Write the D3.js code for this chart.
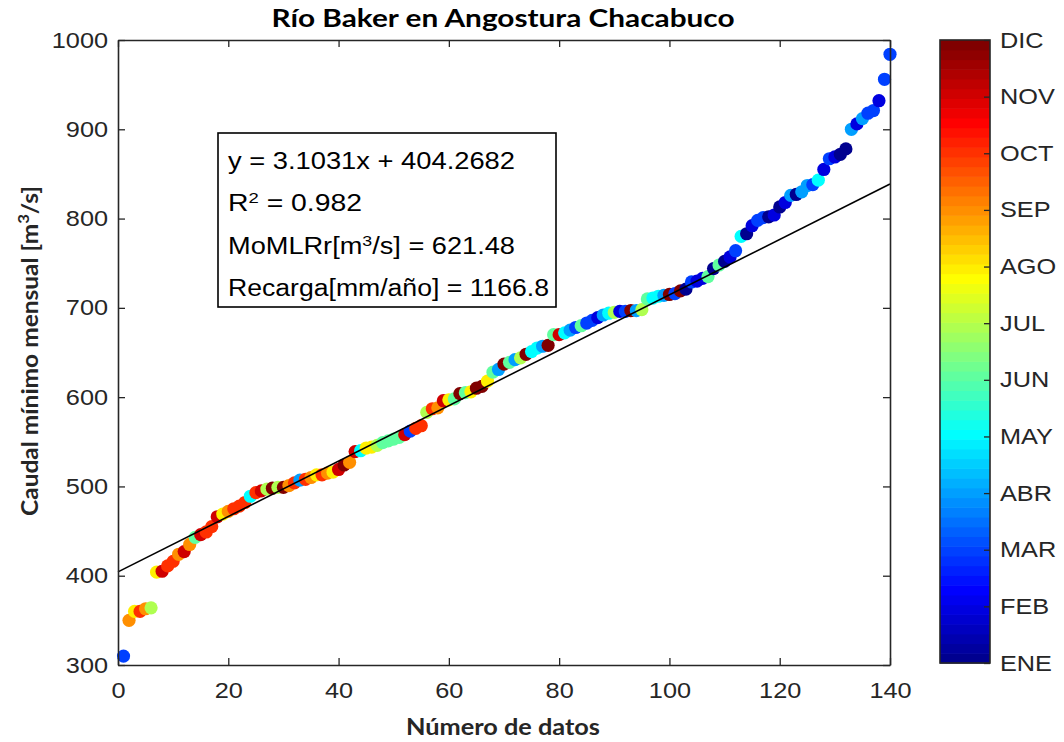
<!DOCTYPE html>
<html>
<head>
<meta charset="utf-8">
<script src="https://cdn.jsdelivr.net/npm/d3@7"></script>
<style>
  html, body { margin: 0; padding: 0; background: #fff; }
  svg { display: block; }
</style>
</head>
<body>
<svg id="chart" width="1064" height="742"></svg>
<script>
// ---------- DATA ----------
const caudal = [
  310, 350, 360, 360, 363, 364, 404, 405, 411, 416,
  424, 427, 435, 443, 446, 449, 455, 466, 469, 472,
  475, 478, 482, 489, 493, 495, 497, 498, 499, 499,
  501, 504, 507, 508, 510, 513, 513, 515, 516, 519,
  524, 527, 539, 540, 543, 544, 546, 549, 551, 553,
  555, 558, 562, 565, 568, 583, 587, 588, 596, 597,
  598, 604, 605, 606, 610, 612, 618, 628, 631, 637,
  639, 642, 644, 648, 651, 655, 657, 658, 670, 670,
  672, 675, 678, 680, 683, 686, 689, 692, 694, 695,
  696, 696, 697, 697, 698, 710, 711, 713, 714, 715,
  716, 719, 721, 729, 730, 733, 735, 744, 748, 752,
  757, 764, 780, 783, 792, 798, 801, 802, 804, 813,
  818, 826, 827, 830, 837, 838, 843, 855, 867, 869,
  872, 878, 900, 906, 912, 918, 921, 932, 956, 984
];
const mes = [
  3, 9, 8, 10, 9, 7, 8, 11, 10, 10,
  9, 11, 9, 6, 11, 10, 10, 11, 8, 9,
  10, 10, 10, 5, 10, 11, 7, 12, 7, 12,
  9, 10, 4, 10, 9, 8, 10, 9, 8, 11,
  12, 9, 11, 5, 8, 8, 7, 6, 6, 6,
  6, 11, 3, 10, 10, 7, 10, 9, 11, 8,
  6, 12, 6, 8, 12, 12, 8, 6, 4, 12,
  6, 4, 7, 12, 5, 5, 4, 12, 6, 11,
  5, 4, 3, 6, 3, 3, 2, 4, 5, 7,
  2, 3, 12, 4, 7, 6, 5, 5, 4, 12,
  3, 12, 1, 3, 2, 2, 6, 1, 6, 1,
  2, 3, 5, 1, 2, 3, 3, 1, 2, 1,
  2, 4, 1, 4, 4, 3, 5, 2, 3, 2,
  1, 1, 4, 2, 4, 3, 3, 2, 3, 3
];
const mesesLabels = ["ENE","FEB","MAR","ABR","MAY","JUN","JUL","AGO","SEP","OCT","NOV","DIC"];
const xTicks = [0, 20, 40, 60, 80, 100, 120, 140];
const yTicks = [300, 400, 500, 600, 700, 800, 900, 1000];
const ajuste = { pendiente: 3.1031, intercepto: 404.2682 };
const anotaciones = [
  [{t: "y = 3.1031x + 404.2682"}],
  [{t: "R"}, {t: "2", sup: true}, {t: " = 0.982"}],
  [{t: "MoMLRr[m"}, {t: "3", sup: true}, {t: "/s] = 621.48"}],
  [{t: "Recarga[mm/año] = 1166.8"}]
];
const anotacionAncho = [287, 134, 287, 321];

// ---------- COLORMAP (MATLAB jet, 64) ----------
function jetMap(m) {
  const n = Math.ceil(m / 4);
  const u = [];
  for (let i = 1; i <= n; i++) u.push(i / n);
  for (let i = 1; i < n; i++) u.push(1);
  for (let i = n; i >= 1; i--) u.push(i / n);
  const g0 = Math.ceil(n / 2) - (m % 4 === 1 ? 1 : 0);
  const J = Array.from({length: m}, () => [0, 0, 0]);
  u.forEach((v, k) => {
    const g = g0 + k + 1, r = g + n, b = g - n;
    if (r >= 1 && r <= m) J[r - 1][0] = v;
    if (g >= 1 && g <= m) J[g - 1][1] = v;
    if (b >= 1 && b <= m) J[b - 1][2] = v;
  });
  return J.map(c => d3.rgb(c[0] * 255, c[1] * 255, c[2] * 255).toString());
}
const JET = jetMap(64);
const cmin = 1, cmax = 12;
function colorOf(v) {
  let idx = Math.floor((v - cmin) / (cmax - cmin) * JET.length);
  idx = Math.max(0, Math.min(JET.length - 1, idx));
  return JET[idx];
}

// ---------- LAYOUT ----------
const svg = d3.select("#chart");
const L = 118, R = 890, T = 40, B = 665;
const x = d3.scaleLinear().domain([0, 140]).range([L, R]);
const y = d3.scaleLinear().domain([300, 1000]).range([B, T]);
const axisColor = "#262626";
const tickFont = "'Liberation Sans', Arial, sans-serif";
const SX = 1.15;

// points
const pts = caudal.map((v, i) => ({ n: i + 1, v, m: mes[i] }));
svg.append("g").selectAll("circle").data(pts).join("circle")
  .attr("cx", d => x(d.n))
  .attr("cy", d => y(d.v))
  .attr("r", 6.6)
  .attr("fill", d => colorOf(d.m));

// regression line
svg.append("line")
  .attr("x1", x(0)).attr("y1", y(ajuste.intercepto))
  .attr("x2", x(140)).attr("y2", y(ajuste.pendiente * 140 + ajuste.intercepto))
  .attr("stroke", "#000").attr("stroke-width", 1.6);

// axes
function styleAxis(g, showLabels, fs) {
  g.selectAll("path").attr("stroke", axisColor).attr("stroke-width", 1.6);
  g.selectAll("line").attr("stroke", axisColor).attr("stroke-width", 1.3);
  g.selectAll("text").attr("fill", axisColor)
    .style("font-family", tickFont).style("font-size", (fs || 22) + "px");
  if (!showLabels) g.selectAll("text").remove();
  g.selectAll("text").each(function () {
    const t = d3.select(this);
    const x0 = +t.attr("x") || 0;
    t.attr("x", x0 / SX).attr("transform", `scale(${SX},1)`);
  });
}
const gx = svg.append("g").attr("transform", `translate(0,${B})`)
  .call(d3.axisBottom(x).tickValues(xTicks).tickSizeInner(-7).tickSizeOuter(0).tickPadding(17));
styleAxis(gx, true);
const gxt = svg.append("g").attr("transform", `translate(0,${T})`)
  .call(d3.axisTop(x).tickValues(xTicks).tickSizeInner(-7).tickSizeOuter(0));
styleAxis(gxt, false);
const gy = svg.append("g").attr("transform", `translate(${L},0)`)
  .call(d3.axisLeft(y).tickValues(yTicks).tickFormat(d3.format("d"))
    .tickSizeInner(-7).tickSizeOuter(0).tickPadding(10));
styleAxis(gy, true);
const gyr = svg.append("g").attr("transform", `translate(${R},0)`)
  .call(d3.axisRight(y).tickValues(yTicks).tickSizeInner(-7).tickSizeOuter(0));
styleAxis(gyr, false);

// titles
const labelFont = "Lato, 'Open Sans', sans-serif";
svg.append("text").attr("x", 503).attr("y", 27).attr("text-anchor", "middle")
  .attr("textLength", 463).attr("lengthAdjust", "spacingAndGlyphs")
  .style("font-family", labelFont).style("font-weight", "bold").style("font-size", "25px")
  .attr("fill", "#000").text("Río Baker en Angostura Chacabuco");
svg.append("text").attr("x", 503).attr("y", 735).attr("text-anchor", "middle")
  .attr("textLength", 194).attr("lengthAdjust", "spacingAndGlyphs")
  .style("font-family", labelFont).style("font-weight", "bold").style("font-size", "22px")
  .attr("fill", axisColor).text("Número de datos");
const yl = svg.append("text").attr("transform", "translate(38,351) rotate(-90)")
  .attr("text-anchor", "middle")
  .attr("textLength", 330).attr("lengthAdjust", "spacingAndGlyphs")
  .style("font-family", labelFont).style("font-weight", "bold").style("font-size", "22px")
  .attr("fill", axisColor);
yl.append("tspan").text("Caudal mínimo mensual [m");
yl.append("tspan").attr("baseline-shift", "super").style("font-size", "15px").text("3");
yl.append("tspan").text("/s]");

// annotation box
svg.append("rect").attr("x", 218).attr("y", 133).attr("width", 338).attr("height", 174)
  .attr("fill", "#fff").attr("stroke", "#000").attr("stroke-width", 1.6);
anotaciones.forEach((line, i) => {
  const t = svg.append("text").attr("x", 228).attr("y", 169 + i * 42.3)
    .attr("textLength", anotacionAncho[i]).attr("lengthAdjust", "spacingAndGlyphs")
    .style("font-family", tickFont).style("font-size", "23px").attr("fill", "#000");
  line.forEach(p => {
    const s = t.append("tspan").text(p.t);
    if (p.sup) s.attr("baseline-shift", "super").style("font-size", "15px");
  });
});

// colorbar
const cbX = 940, cbW = 50;
const cy = d3.scaleLinear().domain([cmin, cmax]).range([663, 40]);
const cbG = svg.append("g");
JET.forEach((c, i) => {
  const v0 = cmin + (cmax - cmin) * i / JET.length;
  const v1 = cmin + (cmax - cmin) * (i + 1) / JET.length;
  cbG.append("rect").attr("x", cbX).attr("y", cy(v1)).attr("width", cbW)
    .attr("height", cy(v0) - cy(v1) + 0.6).attr("fill", c);
});
const gcb = svg.append("g").attr("transform", `translate(${cbX + cbW},0)`)
  .call(d3.axisRight(cy).tickValues(d3.range(1, 13)).tickFormat(d => mesesLabels[d - 1])
    .tickSizeInner(-6).tickSizeOuter(0).tickPadding(10));
styleAxis(gcb, true, 22);
gcb.select("path").remove();
svg.append("rect").attr("x", cbX).attr("y", 40).attr("width", cbW).attr("height", 623)
  .attr("fill", "none").attr("stroke", axisColor).attr("stroke-width", 1.6);
</script>
</body>
</html>
